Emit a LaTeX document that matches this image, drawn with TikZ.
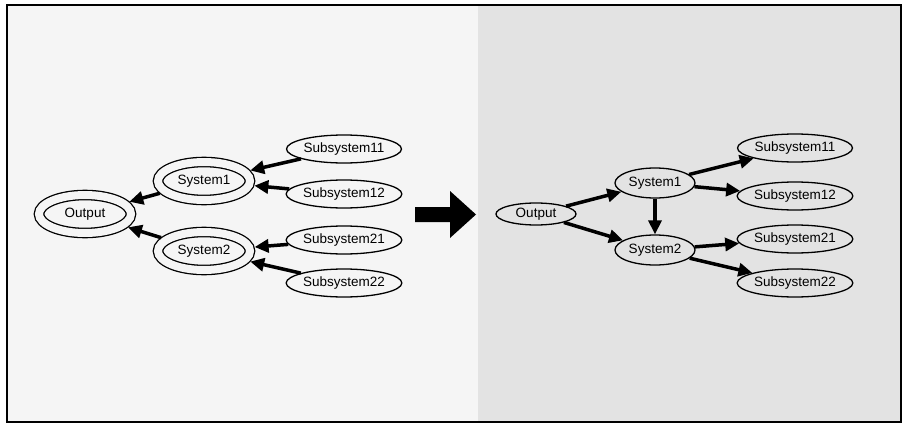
\documentclass[tikz,border=0pt]{standalone}
\usepackage{fontspec}
\usepackage{xcolor}
\usepackage{tikz}
\usetikzlibrary {arrows.meta,backgrounds,shapes.geometric}
\newfontfamily\diagfont{Liberation Sans}
\definecolor{paperleft}{gray}{0.96}
\definecolor{paperright}{gray}{0.89}

\begin{document}
\begin{tikzpicture}[x=1pt, y=-1pt,
  font=\diagfont\fontsize{13.5}{15}\selectfont,
  oval/.style={ellipse, draw, line width=1.3pt, inner sep=0pt},
  ring/.style={oval, double=paperleft, double distance=8pt,
    minimum width=92pt, minimum height=38pt, outer sep=5.3pt},
  sub/.style={oval, minimum width=115pt, minimum height=28pt},
  sys/.style={oval, minimum width=80pt, minimum height=30pt},
  link/.style={line width=3.5pt, -{Triangle[length=14pt,width=13pt]}}]

\useasboundingbox (0,0) rectangle (903,423);
\fill[paperleft] (7,5) rectangle (478,422);
\fill[paperright] (478,5) rectangle (901,422);
\draw[line width=2pt] (7,5) rectangle (901,422);

% before
\node (o1) at (85,214) [ring]{Output};
\node (s1) at (204,181) [ring]{System1};
\node (s2) at (204,251) [ring]{System2};
\node (s11) at (344,149) [sub]{Subsystem11};
\node (s12) at (344,194) [sub]{Subsystem12};
\node (s21) at (344,240) [sub]{Subsystem21};
\node (s22) at (344,283) [sub]{Subsystem22};

\draw[link] (s11) -- (s1);
\draw[link] (s12) -- (s1);
\draw[link] (s21) -- (s2);
\draw[link] (s22) -- (s2);
\draw[link] (s1) -- (o1);
\draw[link] (s2) -- (o1);

% big arrow
\fill (415,207) -- (450,207) -- (450,191) -- (476,214.5)
  -- (450,238) -- (450,222) -- (415,222) -- cycle;

% after
\node (r1) at (536,214) [oval, minimum width=80pt, minimum height=22pt]{Output};
\node (r2) at (655,183) [sys]{System1};
\node (r3) at (655,250) [sys]{System2};
\node (r21) at (795,148) [sub]{Subsystem11};
\node (r22) at (795,196) [sub]{Subsystem12};
\node (r31) at (795,239) [sub]{Subsystem21};
\node (r32) at (795,283) [sub]{Subsystem22};

\draw[link] (r1) -- (r2);
\draw[link] (r1) -- (r3);
\draw[link] (r2) -- (r3);
\draw[link] (r2) -- (r21);
\draw[link] (r2) -- (r22);
\draw[link] (r3) -- (r31);
\draw[link] (r3) -- (r32);

\end{tikzpicture}
\end{document}
